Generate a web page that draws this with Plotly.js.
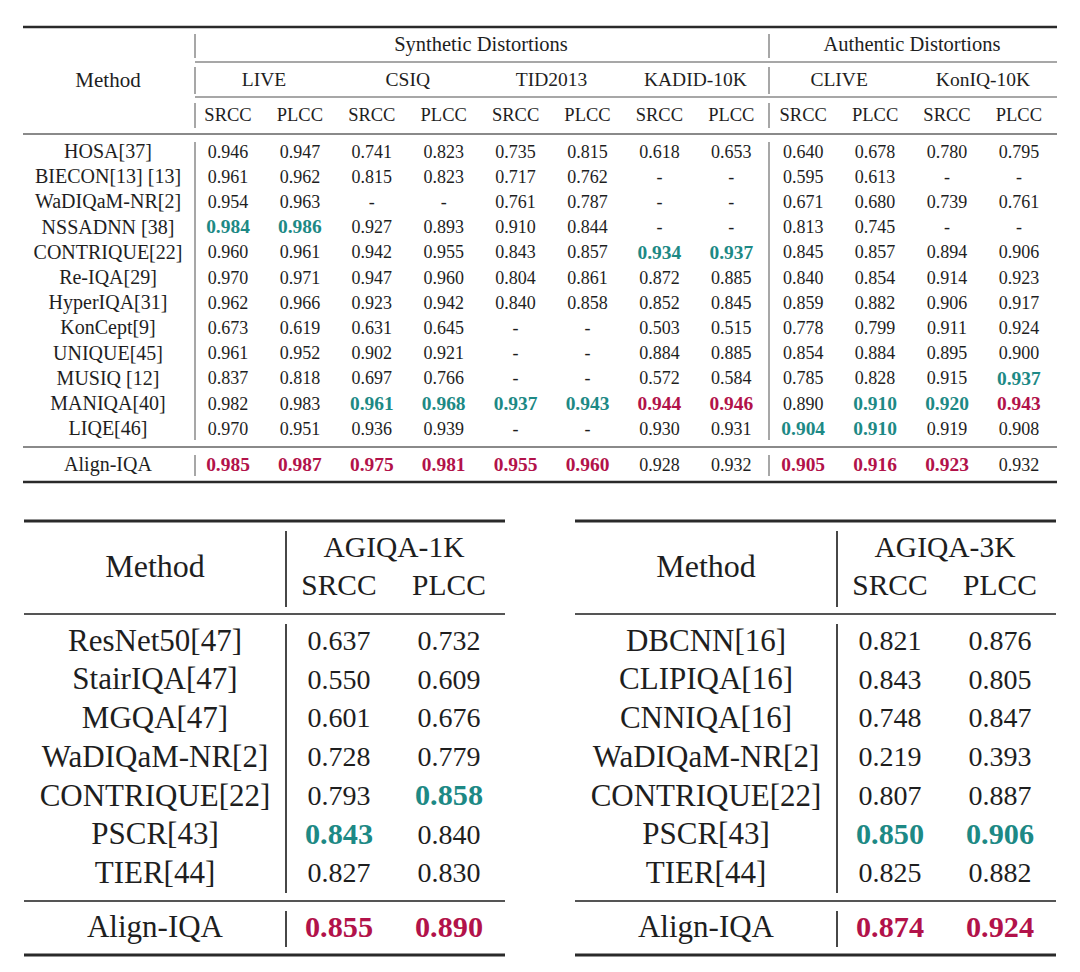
<!DOCTYPE html>
<html>
<head>
<meta charset="utf-8">
<script src="https://cdn.plot.ly/plotly-3.0.1.min.js"></script>
<style>
  body { margin: 0; background: #fff; }
  #table { width: 1080px; height: 972px; }
</style>
</head>
<body>
<div id="table"></div>
<script>
// ---- data: top table (synthetic + authentic distortions) ----
var topGroups = ["Synthetic Distortions", "Authentic Distortions"];
var topDatasets = ["LIVE", "CSIQ", "TID2013", "KADID-10K", "CLIVE", "KonIQ-10K"];
var metrics = ["SRCC", "PLCC"];
var topMethods = ["HOSA[37]", "BIECON[13] [13]", "WaDIQaM-NR[2]", "NSSADNN [38]", "CONTRIQUE[22]",
  "Re-IQA[29]", "HyperIQA[31]", "KonCept[9]", "UNIQUE[45]", "MUSIQ [12]", "MANIQA[40]", "LIQE[46]", "Align-IQA"];
var topValues = [
  [0.946, 0.947, 0.741, 0.823, 0.735, 0.815, 0.618, 0.653, 0.640, 0.678, 0.780, 0.795],
  [0.961, 0.962, 0.815, 0.823, 0.717, 0.762, null, null, 0.595, 0.613, null, null],
  [0.954, 0.963, null, null, 0.761, 0.787, null, null, 0.671, 0.680, 0.739, 0.761],
  [0.984, 0.986, 0.927, 0.893, 0.910, 0.844, null, null, 0.813, 0.745, null, null],
  [0.960, 0.961, 0.942, 0.955, 0.843, 0.857, 0.934, 0.937, 0.845, 0.857, 0.894, 0.906],
  [0.970, 0.971, 0.947, 0.960, 0.804, 0.861, 0.872, 0.885, 0.840, 0.854, 0.914, 0.923],
  [0.962, 0.966, 0.923, 0.942, 0.840, 0.858, 0.852, 0.845, 0.859, 0.882, 0.906, 0.917],
  [0.673, 0.619, 0.631, 0.645, null, null, 0.503, 0.515, 0.778, 0.799, 0.911, 0.924],
  [0.961, 0.952, 0.902, 0.921, null, null, 0.884, 0.885, 0.854, 0.884, 0.895, 0.900],
  [0.837, 0.818, 0.697, 0.766, null, null, 0.572, 0.584, 0.785, 0.828, 0.915, 0.937],
  [0.982, 0.983, 0.961, 0.968, 0.937, 0.943, 0.944, 0.946, 0.890, 0.910, 0.920, 0.943],
  [0.970, 0.951, 0.936, 0.939, null, null, 0.930, 0.931, 0.904, 0.910, 0.919, 0.908],
  [0.985, 0.987, 0.975, 0.981, 0.955, 0.960, 0.928, 0.932, 0.905, 0.916, 0.923, 0.932]
];
// [row, col] of best (red) and second best (teal) cells
var topBest = [[10, 6], [10, 7], [10, 11], [12, 0], [12, 1], [12, 2], [12, 3], [12, 4], [12, 5], [12, 8], [12, 9], [12, 10]];
var topSecond = [[3, 0], [3, 1], [4, 6], [4, 7], [9, 11], [10, 2], [10, 3], [10, 4], [10, 5], [10, 9], [10, 10], [11, 8], [11, 9]];

// ---- data: AGIQA-1K ----
var agi1kMethods = ["ResNet50[47]", "StairIQA[47]", "MGQA[47]", "WaDIQaM-NR[2]", "CONTRIQUE[22]", "PSCR[43]", "TIER[44]", "Align-IQA"];
var agi1kSrcc = [0.637, 0.550, 0.601, 0.728, 0.793, 0.843, 0.827, 0.855];
var agi1kPlcc = [0.732, 0.609, 0.676, 0.779, 0.858, 0.840, 0.830, 0.890];
var agi1kBest = [[7, 0], [7, 1]];
var agi1kSecond = [[4, 1], [5, 0]];

// ---- data: AGIQA-3K ----
var agi3kMethods = ["DBCNN[16]", "CLIPIQA[16]", "CNNIQA[16]", "WaDIQaM-NR[2]", "CONTRIQUE[22]", "PSCR[43]", "TIER[44]", "Align-IQA"];
var agi3kSrcc = [0.821, 0.843, 0.748, 0.219, 0.807, 0.850, 0.825, 0.874];
var agi3kPlcc = [0.876, 0.805, 0.847, 0.393, 0.887, 0.906, 0.882, 0.924];
var agi3kBest = [[7, 0], [7, 1]];
var agi3kSecond = [[5, 0], [5, 1]];

// ---- styles ----
var FONT = "Liberation Serif, Times New Roman, serif";
var INK = "#1e1e1e";
var TEAL = "#1d8985";
var RED = "#b2124a";
var RULE = "#2a2a2a";
var MID = "#8a8a8a";

var traces = [];
var shapes = [];

function hline(x0, x1, y, w, c) {
  shapes.push({type: "line", xref: "x", yref: "y", x0: x0, x1: x1, y0: y, y1: y, line: {color: c, width: w}});
}
function vline(x, y0, y1, w, c) {
  shapes.push({type: "line", xref: "x", yref: "y", x0: x, x1: x, y0: y0, y1: y1, line: {color: c, width: w}});
}

function textTrace(xs, ys, txt, size, color, bold) {
  traces.push({
    type: "scatter", mode: "text", x: xs, y: ys, text: txt,
    textposition: "middle center", cliponaxis: false, hoverinfo: "skip", showlegend: false,
    textfont: {family: FONT, size: size, color: color, weight: bold ? "bold" : "normal"}
  });
}

function hasCell(list, r, c) {
  return list.some(function (p) { return p[0] === r && p[1] === c; });
}

// put value cells into normal / teal / red groups
function addCells(values, best, second, colX, rowY, size) {
  var groups = {n: [[], [], []], t: [[], [], []], r: [[], [], []]};
  values.forEach(function (row, r) {
    row.forEach(function (v, c) {
      var key = hasCell(best, r, c) ? "r" : (hasCell(second, r, c) ? "t" : "n");
      groups[key][0].push(colX(c));
      groups[key][1].push(rowY(r));
      groups[key][2].push(v === null ? "-" : v.toFixed(3));
    });
  });
  // bold digits in the paper font run a bit wider
  var bsize = size * 1.08;
  textTrace(groups.n[0], groups.n[1], groups.n[2], size, INK, false);
  textTrace(groups.t[0], groups.t[1], groups.t[2], bsize, TEAL, true);
  textTrace(groups.r[0], groups.r[1], groups.r[2], bsize, RED, true);
}

// ================= top table =================
(function () {
  var colX = function (c) { return 228 + 71.9 * c; };
  var rowY = function (r) { return r < 12 ? 153 + 25.2 * r : 466; };
  var methodX = 108;

  textTrace([methodX], [82], ["Method"], 21, INK, false);
  textTrace([481, 912], [46, 46], topGroups, 20.5, INK, false);
  textTrace(topDatasets.map(function (d, i) { return (colX(2 * i) + colX(2 * i + 1)) / 2; }),
    topDatasets.map(function () { return 81; }), topDatasets, 19.5, INK, false);
  var mx = [], my = [], mt = [];
  for (var i = 0; i < 12; i++) { mx.push(colX(i)); my.push(116); mt.push(metrics[i % 2]); }
  textTrace(mx, my, mt, 18.5, INK, false);

  textTrace(topMethods.map(function () { return methodX; }), topMethods.map(function (m, r) { return rowY(r); }),
    topMethods, 20, INK, false);
  addCells(topValues, topBest, topSecond, colX, rowY, 18);

  hline(23, 1057, 27, 2.5, RULE);
  hline(195, 1057, 62, 1.5, MID);
  hline(195, 1057, 97, 1.5, MID);
  hline(23, 1057, 134, 2, MID);
  hline(23, 1057, 447, 2, MID);
  hline(23, 1057, 482, 2.5, RULE);
  [195, 769].forEach(function (x) {
    vline(x, 34, 58, 1.5, MID);
    vline(x, 67, 94, 1.5, MID);
    vline(x, 103, 128, 1.5, MID);
    vline(x, 142, 440, 1.5, MID);
    vline(x, 455, 476, 1.5, MID);
  });
})();

// ================= bottom tables =================
function bottomTable(left, title, methods, srcc, plcc, best, second) {
  var off = left - 24;
  var colX = function (c) { return off + 339 + 110 * c; };
  var rowY = function (r) { return r < 7 ? 643 + 38.7 * r : 929; };
  var methodX = off + 155;
  var right = off + 505;
  var divX = off + 286;

  textTrace([methodX], [569], ["Method"], 32, INK, false);
  textTrace([(colX(0) + colX(1)) / 2], [550], [title], 29.5, INK, false);
  textTrace([colX(0), colX(1)], [588, 588], metrics, 29.5, INK, false);
  textTrace(methods.map(function () { return methodX; }), methods.map(function (m, r) { return rowY(r); }),
    methods, 31, INK, false);
  var vals = srcc.map(function (s, i) { return [s, plcc[i]]; });
  addCells(vals, best, second, colX, rowY, 28);

  hline(off + 24, right, 521, 3, RULE);
  hline(off + 24, right, 614, 2, "#555");
  hline(off + 24, right, 901, 2, "#555");
  hline(off + 24, right, 955, 3, RULE);
  vline(divX, 531, 607, 1.8, "#333");
  vline(divX, 624, 893, 1.8, "#333");
  vline(divX, 911, 947, 1.8, "#333");
}

bottomTable(24, "AGIQA-1K", agi1kMethods, agi1kSrcc, agi1kPlcc, agi1kBest, agi1kSecond);
bottomTable(575, "AGIQA-3K", agi3kMethods, agi3kSrcc, agi3kPlcc, agi3kBest, agi3kSecond);

var layout = {
  width: 1080, height: 972,
  margin: {l: 0, r: 0, t: 0, b: 0},
  paper_bgcolor: "#fff", plot_bgcolor: "#fff",
  xaxis: {range: [0, 1080], visible: false, fixedrange: true},
  yaxis: {range: [972, 0], visible: false, fixedrange: true},
  shapes: shapes,
  showlegend: false
};

Plotly.newPlot("table", traces, layout, {staticPlot: true});
</script>
</body>
</html>
